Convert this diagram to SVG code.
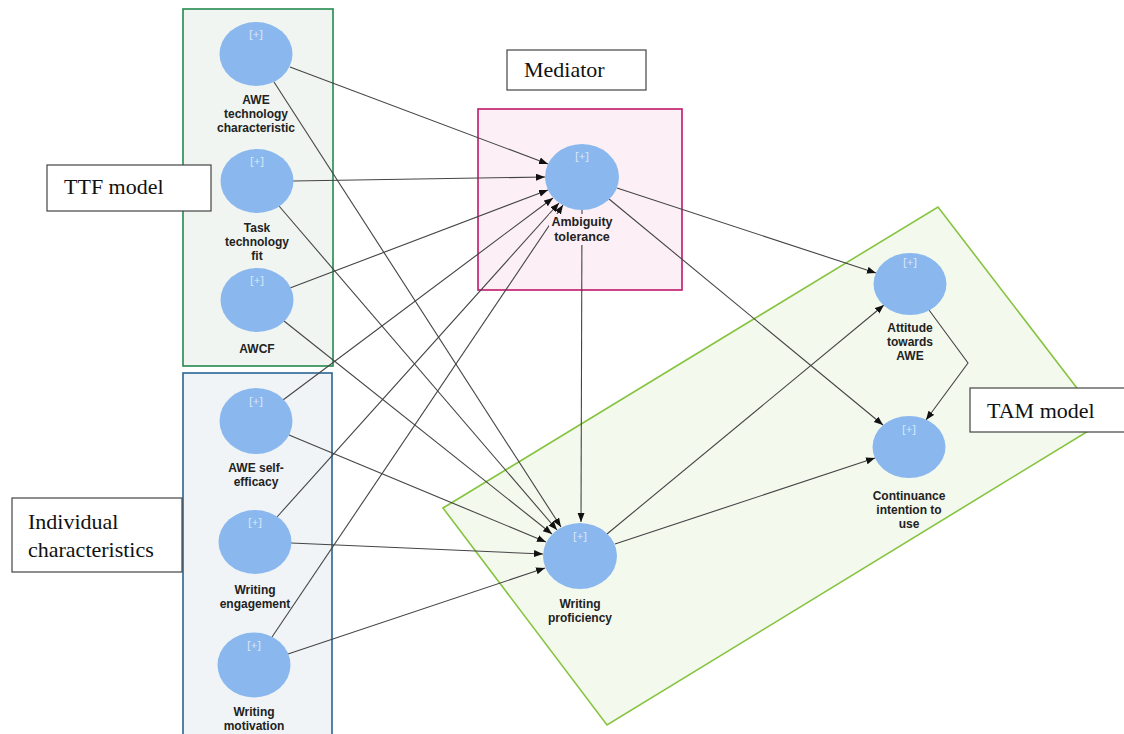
<svg xmlns="http://www.w3.org/2000/svg" width="1124" height="734" viewBox="0 0 1124 734">
<style>
.node{fill:#8ab8ee;}
.plus{font-family:"Open Sans","DejaVu Sans",sans-serif;font-size:11.5px;fill:#dde9f8;text-anchor:middle;}
.lbl{font-family:"Liberation Sans",Arial,sans-serif;font-size:12px;font-weight:bold;fill:#222;text-anchor:middle;}
.lbl2{font-family:"Liberation Sans",Arial,sans-serif;font-size:12.5px;font-weight:bold;fill:#222;text-anchor:middle;}
.cap{fill:#fff;stroke:#444;stroke-width:1.2;}
.capt{font-family:"Liberation Serif","Times New Roman",serif;font-size:22px;fill:#111;}
.edge{stroke:#444;stroke-width:1.1;fill:none;marker-end:url(#ah);}
</style>
<defs>
<marker id="ah" markerUnits="userSpaceOnUse" markerWidth="10" markerHeight="8" refX="9" refY="3.5" orient="auto">
<path d="M0,0 L9,3.5 L0,7 z" fill="#111"/>
</marker>
</defs>
<rect width="1124" height="734" fill="#fff"/>
<g id="groups">
<rect id="ttf-box" x="183" y="9" width="150" height="357" fill="#f0f5f1" stroke="#238a4e" stroke-width="1.6"/>
<rect id="indiv-box" x="183" y="373" width="149" height="370" fill="#f0f4f7" stroke="#2b6593" stroke-width="1.6"/>
<rect id="mediator-box" x="478" y="109" width="204" height="181" fill="#fcf0f6" stroke="#c0186a" stroke-width="1.6"/>
<polygon id="tam-box" points="443,508 938,207 1103,422 607,725" fill="#f4f9ee" stroke="#86c440" stroke-width="1.6"/>
</g>
<g id="connectors">
<line class="edge" x1="290" y1="67" x2="548" y2="164"/>
<line class="edge" x1="274" y1="82" x2="561" y2="527"/>
<line class="edge" x1="293" y1="181" x2="545" y2="177"/>
<line class="edge" x1="279" y1="206" x2="557" y2="530"/>
<line class="edge" x1="290" y1="288" x2="548" y2="190"/>
<line class="edge" x1="284" y1="321" x2="552" y2="534"/>
<line class="edge" x1="283" y1="400" x2="553" y2="198"/>
<line class="edge" x1="289" y1="435" x2="546" y2="542"/>
<line class="edge" x1="277" y1="517" x2="559" y2="203"/>
<line class="edge" x1="291" y1="543" x2="543" y2="554"/>
<line class="edge" x1="272" y1="637" x2="563" y2="205"/>
<line class="edge" x1="288" y1="654" x2="545" y2="568"/>
<line class="edge" x1="617" y1="188" x2="876" y2="273"/>
<line class="edge" x1="609" y1="199" x2="883" y2="425"/>
<line class="edge" x1="582" y1="210" x2="581" y2="522"/>
<line class="edge" x1="607" y1="534" x2="884" y2="305"/>
<line class="edge" x1="615" y1="544" x2="875" y2="458"/>
<polyline class="edge" points="929,310 968,363 926,420"/>
</g>
<g id="n-awe-tech">
<ellipse class="node" cx="256" cy="54" rx="36.5" ry="32"/>
<text class="plus" x="256" y="38">[+]</text>
<text class="lbl" x="256" y="104">AWE</text>
<text class="lbl" x="256" y="118">technology</text>
<text class="lbl" x="256" y="132">characteristic</text>
</g>
<g id="n-ttf">
<ellipse class="node" cx="257" cy="181" rx="36.5" ry="32"/>
<text class="plus" x="257" y="165">[+]</text>
<text class="lbl" x="257" y="232">Task</text>
<text class="lbl" x="257" y="246">technology</text>
<text class="lbl" x="257" y="260">fit</text>
</g>
<g id="n-awcf">
<ellipse class="node" cx="257" cy="300" rx="36.5" ry="32"/>
<text class="plus" x="257" y="284">[+]</text>
<text class="lbl" x="257" y="353">AWCF</text>
</g>
<g id="n-selfeff">
<ellipse class="node" cx="256" cy="421" rx="36.5" ry="33"/>
<text class="plus" x="256" y="405">[+]</text>
<text class="lbl" x="256" y="472">AWE self-</text>
<text class="lbl" x="256" y="486">efficacy</text>
</g>
<g id="n-engage">
<ellipse class="node" cx="255" cy="542" rx="36.5" ry="32"/>
<text class="plus" x="255" y="526">[+]</text>
<text class="lbl" x="255" y="594">Writing</text>
<text class="lbl" x="255" y="608">engagement</text>
</g>
<g id="n-motiv">
<ellipse class="node" cx="254" cy="665" rx="36.5" ry="32.5"/>
<text class="plus" x="254" y="649">[+]</text>
<text class="lbl" x="254" y="716">Writing</text>
<text class="lbl" x="254" y="730">motivation</text>
</g>
<g id="n-ambig">
<ellipse class="node" cx="582" cy="177" rx="37" ry="33"/>
<text class="plus" x="582" y="160">[+]</text>
<rect x="549" y="214" width="66" height="31" fill="#fcf0f6"/>
<text class="lbl2" x="582" y="226">Ambiguity</text>
<text class="lbl2" x="582" y="241">tolerance</text>
</g>
<g id="n-wp">
<ellipse class="node" cx="580" cy="556" rx="37" ry="33"/>
<text class="plus" x="580" y="540">[+]</text>
<text class="lbl" x="580" y="608">Writing</text>
<text class="lbl" x="580" y="622">proficiency</text>
</g>
<g id="n-att">
<ellipse class="node" cx="910" cy="284" rx="36.5" ry="31"/>
<text class="plus" x="910" y="266">[+]</text>
<text class="lbl" x="910" y="332">Attitude</text>
<text class="lbl" x="910" y="346">towards</text>
<text class="lbl" x="910" y="360">AWE</text>
</g>
<g id="n-ci">
<ellipse class="node" cx="909" cy="447" rx="36.5" ry="31"/>
<text class="plus" x="909" y="433">[+]</text>
<text class="lbl" x="909" y="500">Continuance</text>
<text class="lbl" x="909" y="514">intention to</text>
<text class="lbl" x="909" y="528">use</text>
</g>
<g id="captions">
<g id="cap-mediator"><rect class="cap" x="507" y="50" width="139" height="40"/><text class="capt" x="524" y="77">Mediator</text></g>
<g id="cap-ttf"><rect class="cap" x="47" y="165" width="164" height="46"/><text class="capt" x="64" y="194">TTF model</text></g>
<g id="cap-indiv"><rect class="cap" x="12" y="498" width="170" height="74"/><text class="capt" x="28" y="529">Individual</text><text class="capt" x="28" y="557">characteristics</text></g>
<g id="cap-tam"><rect class="cap" x="970" y="388" width="160" height="44"/><text class="capt" x="987" y="418">TAM model</text></g>
</g>
</svg>
